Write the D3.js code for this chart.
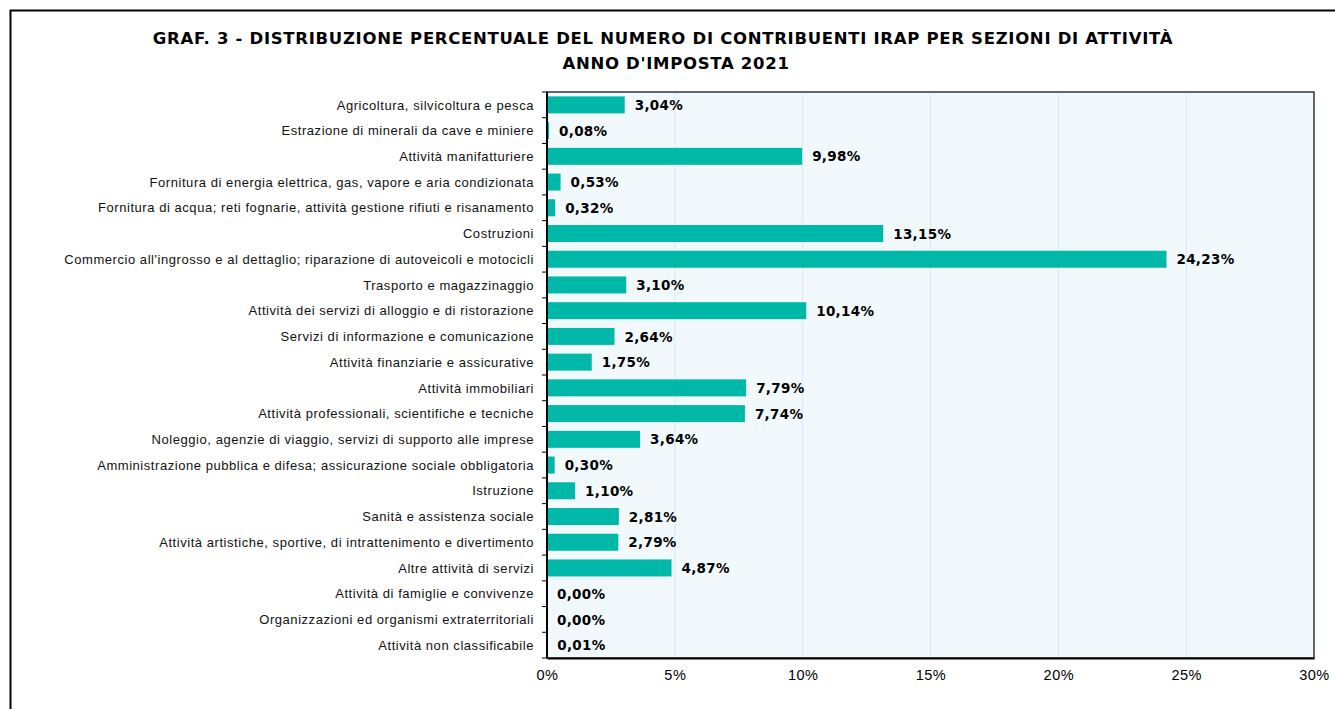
<!DOCTYPE html>
<html>
<head>
<meta charset="utf-8">
<script src="https://cdn.jsdelivr.net/npm/d3@7"></script>
<style>
  body { margin: 0; background: #fff; }
  text { font-family: "Liberation Sans", Arial, sans-serif; }
</style>
</head>
<body>
<div id="chart"></div>
<script>
// categories (top to bottom) and their percentage shares
var categories = [
  "Agricoltura, silvicoltura e pesca",
  "Estrazione di minerali da cave e miniere",
  "Attività manifatturiere",
  "Fornitura di energia elettrica, gas, vapore e aria condizionata",
  "Fornitura di acqua; reti fognarie, attività gestione rifiuti e risanamento",
  "Costruzioni",
  "Commercio all'ingrosso e al dettaglio; riparazione di autoveicoli e motocicli",
  "Trasporto e magazzinaggio",
  "Attività dei servizi di alloggio e di ristorazione",
  "Servizi di informazione e comunicazione",
  "Attività finanziarie e assicurative",
  "Attività immobiliari",
  "Attività professionali, scientifiche e tecniche",
  "Noleggio, agenzie di viaggio, servizi di supporto alle imprese",
  "Amministrazione pubblica e difesa; assicurazione sociale obbligatoria",
  "Istruzione",
  "Sanità e assistenza sociale",
  "Attività artistiche, sportive, di intrattenimento e divertimento",
  "Altre attività di servizi",
  "Attività di famiglie e convivenze",
  "Organizzazioni ed organismi extraterritoriali",
  "Attività non classificabile"
];
var values = [3.04, 0.08, 9.98, 0.53, 0.32, 13.15, 24.23, 3.10, 10.14, 2.64, 1.75,
              7.79, 7.74, 3.64, 0.30, 1.10, 2.81, 2.79, 4.87, 0.00, 0.00, 0.01];
var xTicks = [0, 5, 10, 15, 20, 25, 30];
var titleLines = [
  "GRAF. 3 - DISTRIBUZIONE PERCENTUALE DEL NUMERO DI CONTRIBUENTI IRAP PER SEZIONI DI ATTIVITÀ",
  "ANNO D'IMPOSTA 2021"
];

var W = 1335, H = 709;
var margin = {top: 92, right: 21, bottom: 51, left: 547},
    width = W - margin.left - margin.right,
    height = H - margin.top - margin.bottom;

var data = categories.map(function(c, i) { return {name: c, value: values[i]}; });
var fmt = function(v) { return d3.format(".2f")(v).replace(".", ",") + "%"; };
var heavy = "'DejaVu Sans', sans-serif";

var root = d3.select("#chart").append("svg")
    .attr("width", W)
    .attr("height", H);

// outer frame (cropped on the right and bottom)
root.append("path")
    .attr("d", "M10.5," + H + "V10.5H" + W)
    .attr("fill", "none")
    .attr("stroke", "#000")
    .attr("stroke-width", 2);

// title
root.selectAll(".title")
  .data(titleLines)
  .enter().append("text")
    .attr("class", "title")
    .attr("x", function(d, i) { return i === 0 ? 663 : 676; })
    .attr("y", function(d, i) { return 44 + i * 25; })
    .attr("text-anchor", "middle")
    .style("font-family", heavy)
    .style("font-size", "16.5px")
    .style("font-weight", "bold")
    .style("letter-spacing", "0.7px")
    .text(function(d) { return d; });

var svg = root.append("g")
    .attr("transform", "translate(" + margin.left + "," + margin.top + ")");

var x = d3.scaleLinear().domain([0, 30]).range([0, width]);
var y = d3.scaleBand().domain(categories).range([0, height]).paddingInner(0.34).paddingOuter(0.17);

// plot background
svg.append("rect")
    .attr("width", width)
    .attr("height", height)
    .attr("fill", "#f2f9fc");

// vertical gridlines
svg.selectAll(".grid")
  .data(xTicks.slice(1, -1))
  .enter().append("line")
    .attr("x1", function(d) { return x(d); })
    .attr("x2", function(d) { return x(d); })
    .attr("y1", 0)
    .attr("y2", height)
    .attr("stroke", "#d7e9f4")
    .attr("stroke-width", 1);

// bars
svg.selectAll(".bar")
  .data(data)
  .enter().append("rect")
    .attr("class", "bar")
    .attr("x", 0)
    .attr("y", function(d) { return y(d.name); })
    .attr("width", function(d) { return x(d.value); })
    .attr("height", y.bandwidth())
    .attr("fill", "#00b8a8");

// value labels
svg.selectAll(".val")
  .data(data)
  .enter().append("text")
    .attr("class", "val")
    .attr("x", function(d) { return x(d.value) + 10; })
    .attr("y", function(d) { return y(d.name) + y.bandwidth() / 2; })
    .attr("dy", "0.38em")
    .style("font-family", heavy)
    .style("font-size", "13.5px")
    .style("font-weight", "bold")
    .style("letter-spacing", "0.3px")
    .text(function(d) { return fmt(d.value); });

// plot border
svg.append("rect")
    .attr("width", width)
    .attr("height", height)
    .attr("fill", "none")
    .attr("stroke", "#333")
    .attr("stroke-width", 1.5);

// y axis: ticks between categories, labels centred on bands
var step = height / categories.length;
svg.selectAll(".ytick")
  .data(d3.range(categories.length + 1))
  .enter().append("line")
    .attr("x1", -5)
    .attr("x2", 0)
    .attr("y1", function(i) { return i * step; })
    .attr("y2", function(i) { return i * step; })
    .attr("stroke", "#000");

svg.selectAll(".ylab")
  .data(categories)
  .enter().append("text")
    .attr("x", -13)
    .attr("y", function(d) { return y(d) + y.bandwidth() / 2; })
    .attr("dy", "0.36em")
    .attr("text-anchor", "end")
    .style("font-size", "13px")
    .style("letter-spacing", "0.55px")
    .style("fill", "#111")
    .text(function(d) { return d; });

svg.append("line")
    .attr("x1", 0).attr("x2", 0)
    .attr("y1", 0).attr("y2", height)
    .attr("stroke", "#000").attr("stroke-width", 2);

// x axis
var xAxis = svg.append("g")
    .attr("transform", "translate(0," + height + ")")
    .call(d3.axisBottom(x).tickValues(xTicks).tickSize(0).tickPadding(12)
      .tickFormat(function(d) { return d + "%"; }));
xAxis.select(".domain").attr("stroke", "#000").attr("stroke-width", 2);
xAxis.selectAll("text")
    .style("font-family", "'Liberation Sans', Arial, sans-serif")
    .style("font-size", "14.5px")
    .style("letter-spacing", "0.5px")
    .style("fill", "#000");
</script>
</body>
</html>
